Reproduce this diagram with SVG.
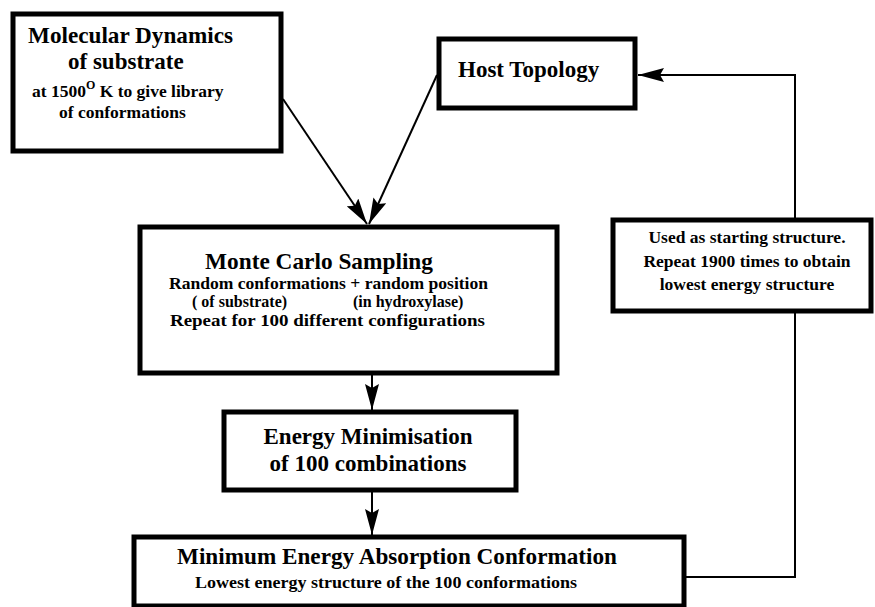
<svg xmlns="http://www.w3.org/2000/svg" width="875" height="607" viewBox="0 0 875 607">
<defs>
<style>
.box{fill:#fff;stroke:#000;stroke-width:5}
.con{fill:none;stroke:#000;stroke-width:2}
text{font-family:"Liberation Serif","Times New Roman",serif;font-weight:bold;fill:#000}
.t{font-size:23px}
.s{font-size:17.5px}
.m{font-size:16px}
</style>
<marker id="ah" viewBox="0 0 26 14" refX="26" refY="7" markerWidth="26" markerHeight="14" markerUnits="userSpaceOnUse" orient="auto">
<path d="M0,0 L26,7 L0,14 L4,7 Z" fill="#000"/>
</marker>
</defs>
<rect width="875" height="607" fill="#fff"/>
<g id="connectors">
<line class="con" x1="283" y1="99" x2="367" y2="224" marker-end="url(#ah)"/>
<line class="con" x1="437" y1="75" x2="369" y2="224" marker-end="url(#ah)"/>
<line class="con" x1="372" y1="375" x2="372" y2="410" marker-end="url(#ah)"/>
<line class="con" x1="372" y1="492" x2="372" y2="535" marker-end="url(#ah)"/>
<polyline class="con" points="795,220 795,75 638,75" marker-end="url(#ah)"/>
<polyline class="con" points="795,311 795,577 686,577"/>
</g>
<g id="md">
<rect class="box" x="13" y="14" width="268" height="137"/>
<text class="t" x="28" y="43" textLength="205" lengthAdjust="spacingAndGlyphs">Molecular Dynamics</text>
<text class="t" x="68" y="69">of substrate</text>
<text class="s" x="32" y="97">at 1500<tspan dy="-8" font-size="12">O</tspan><tspan dy="8"> K to give library</tspan></text>
<text class="s" x="59" y="118">of conformations</text>
</g>
<g id="host">
<rect class="box" x="439" y="39" width="196" height="69"/>
<text class="t" x="458" y="77">Host Topology</text>
</g>
<g id="mc">
<rect class="box" x="140" y="227" width="417" height="146"/>
<text class="t" x="205" y="269" textLength="228" lengthAdjust="spacingAndGlyphs">Monte Carlo Sampling</text>
<text class="m" x="169" y="289" textLength="319" lengthAdjust="spacingAndGlyphs">Random conformations + random position</text>
<text class="m" x="192" y="307">( of substrate)</text>
<text class="m" x="353" y="307">(in hydroxylase)</text>
<text class="m" x="170" y="326" textLength="315" lengthAdjust="spacingAndGlyphs">Repeat for 100 different configurations</text>
</g>
<g id="used">
<rect class="box" x="613" y="220" width="258" height="91"/>
<text class="s" x="747" y="243" text-anchor="middle">Used as starting structure.</text>
<text class="s" x="747" y="267" text-anchor="middle">Repeat 1900 times to obtain</text>
<text class="s" x="747" y="290" text-anchor="middle">lowest energy structure</text>
</g>
<g id="em">
<rect class="box" x="224" y="412" width="292" height="78"/>
<text class="t" x="368" y="444" text-anchor="middle">Energy Minimisation</text>
<text class="t" x="368" y="471" text-anchor="middle">of 100 combinations</text>
</g>
<g id="min">
<rect class="box" x="134" y="537" width="550" height="69"/>
<text class="t" x="177" y="564" textLength="440" lengthAdjust="spacingAndGlyphs">Minimum Energy Absorption Conformation</text>
<text class="s" x="195" y="588" textLength="382" lengthAdjust="spacingAndGlyphs">Lowest energy structure of the 100 conformations</text>
</g>
</svg>
